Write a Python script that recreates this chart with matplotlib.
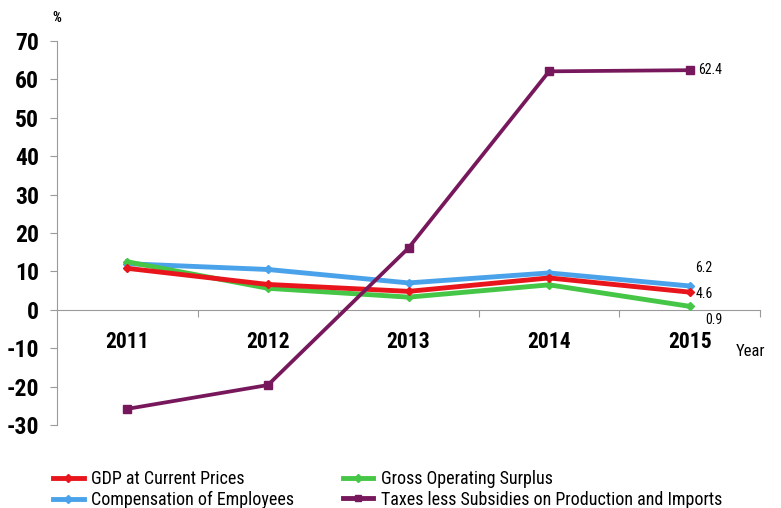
import matplotlib.pyplot as plt
from matplotlib.lines import Line2D
from matplotlib import font_manager

years = ["2011", "2012", "2013", "2014", "2015"]
gdp = [10.8, 6.6, 4.8, 8.3, 4.6]
compensation = [12.0, 10.5, 7.0, 9.6, 6.2]
gross_surplus = [12.5, 5.6, 3.3, 6.5, 0.9]
taxes = [-25.8, -19.6, 16.1, 62.1, 62.4]
y_ticks = [-30, -20, -10, 0, 10, 20, 30, 40, 50, 60, 70]

names = ["GDP at Current Prices", "Compensation of Employees",
         "Gross Operating Surplus", "Taxes less Subsidies on Production and Imports"]
colors = {"gdp": "#e8161c", "comp": "#4aa3ea", "gos": "#45c646", "tax": "#78185c"}

# prefer a condensed face when one is installed
installed = {f.name for f in font_manager.fontManager.ttflist}
condensed = next((n for n in ["Liberation Sans Narrow", "Roboto Condensed",
                              "Open Sans Condensed", "DejaVu Sans Condensed"]
                  if n in installed), "Liberation Sans")
plt.rcParams["font.family"] = [condensed, "Liberation Sans", "DejaVu Sans"]
is_narrow = condensed != "Liberation Sans"

fig = plt.figure(figsize=(7.81, 5.08), dpi=100)
ax = fig.add_axes([57 / 781, 1 - 425 / 508, (760 - 57) / 781, (425 - 41) / 508])

x = list(range(len(years)))
ax.plot(x, gdp, color=colors["gdp"], lw=3.5, marker="D", ms=4, zorder=4)
ax.plot(x, compensation, color=colors["comp"], lw=3.5, marker="D", ms=4, zorder=3)
ax.plot(x, gross_surplus, color=colors["gos"], lw=3.5, marker="D", ms=4, zorder=3)
ax.plot(x, taxes, color=colors["tax"], lw=2.7, marker="s", ms=6, zorder=5)

ax.set_xlim(-0.5, len(years) - 0.5)
ax.set_ylim(-30, 70)

for side in ("top", "right"):
    ax.spines[side].set_visible(False)
ax.spines["bottom"].set_position(("data", 0))
ax.spines["bottom"].set_color("#9a9a9a")
ax.spines["left"].set_color("#9a9a9a")

tick_size = 17 if is_narrow else 14
ax.set_yticks(y_ticks)
ax.set_yticklabels([str(v) for v in y_ticks], fontsize=tick_size, fontweight="bold")
ax.tick_params(axis="y", direction="out", length=5, color="#9a9a9a", pad=8)

# category boundaries as major ticks, labels centred on categories
ax.set_xticks([i + 0.5 for i in x])
ax.set_xticklabels([])
ax.set_xticks(x, minor=True)
ax.set_xticklabels(years, minor=True, fontsize=tick_size - 1.5, fontweight="bold")
ax.tick_params(axis="x", which="major", direction="out", length=5, color="#9a9a9a")
ax.tick_params(axis="x", which="minor", length=0, pad=15)

fig.text(57 / 781, 1 - 18 / 508, "%", fontsize=10, ha="center", va="center", fontweight="bold")
fig.text(736 / 781, 1 - 352 / 508, "Year", fontsize=12 if is_narrow else 11,
         ha="left", va="center")

lbl = 10 if is_narrow else 9
ax.annotate("62.4", (x[-1], taxes[-1]), xytext=(6, 0), textcoords="offset points",
            fontsize=lbl, va="center", ha="left")
ax.annotate("6.2", (x[-1], compensation[-1]), xytext=(4, 13), textcoords="offset points",
            fontsize=lbl, va="center", ha="left")
ax.annotate("4.6", (x[-1], gdp[-1]), xytext=(4, -1), textcoords="offset points",
            fontsize=lbl, va="center", ha="left")
ax.annotate("0.9", (x[-1], gross_surplus[-1]), xytext=(11, -10), textcoords="offset points",
            fontsize=lbl, va="center", ha="left")

handles = [
    Line2D([], [], color=colors["gdp"], lw=3.5, marker="D", ms=4),
    Line2D([], [], color=colors["comp"], lw=3.5, marker="D", ms=4),
    Line2D([], [], color=colors["gos"], lw=3.5, marker="D", ms=4),
    Line2D([], [], color=colors["tax"], lw=3.5, marker="s", ms=5),
]
fig.legend(handles, names, ncol=2, loc="upper left", bbox_to_anchor=(44 / 781, 1 - 461 / 508),
           frameon=False, fontsize=13 if is_narrow else 11.5, handlelength=1.7,
           handletextpad=0.4, columnspacing=2.7, labelspacing=0.15, borderpad=0)

fig.savefig("out.png", dpi=100)
